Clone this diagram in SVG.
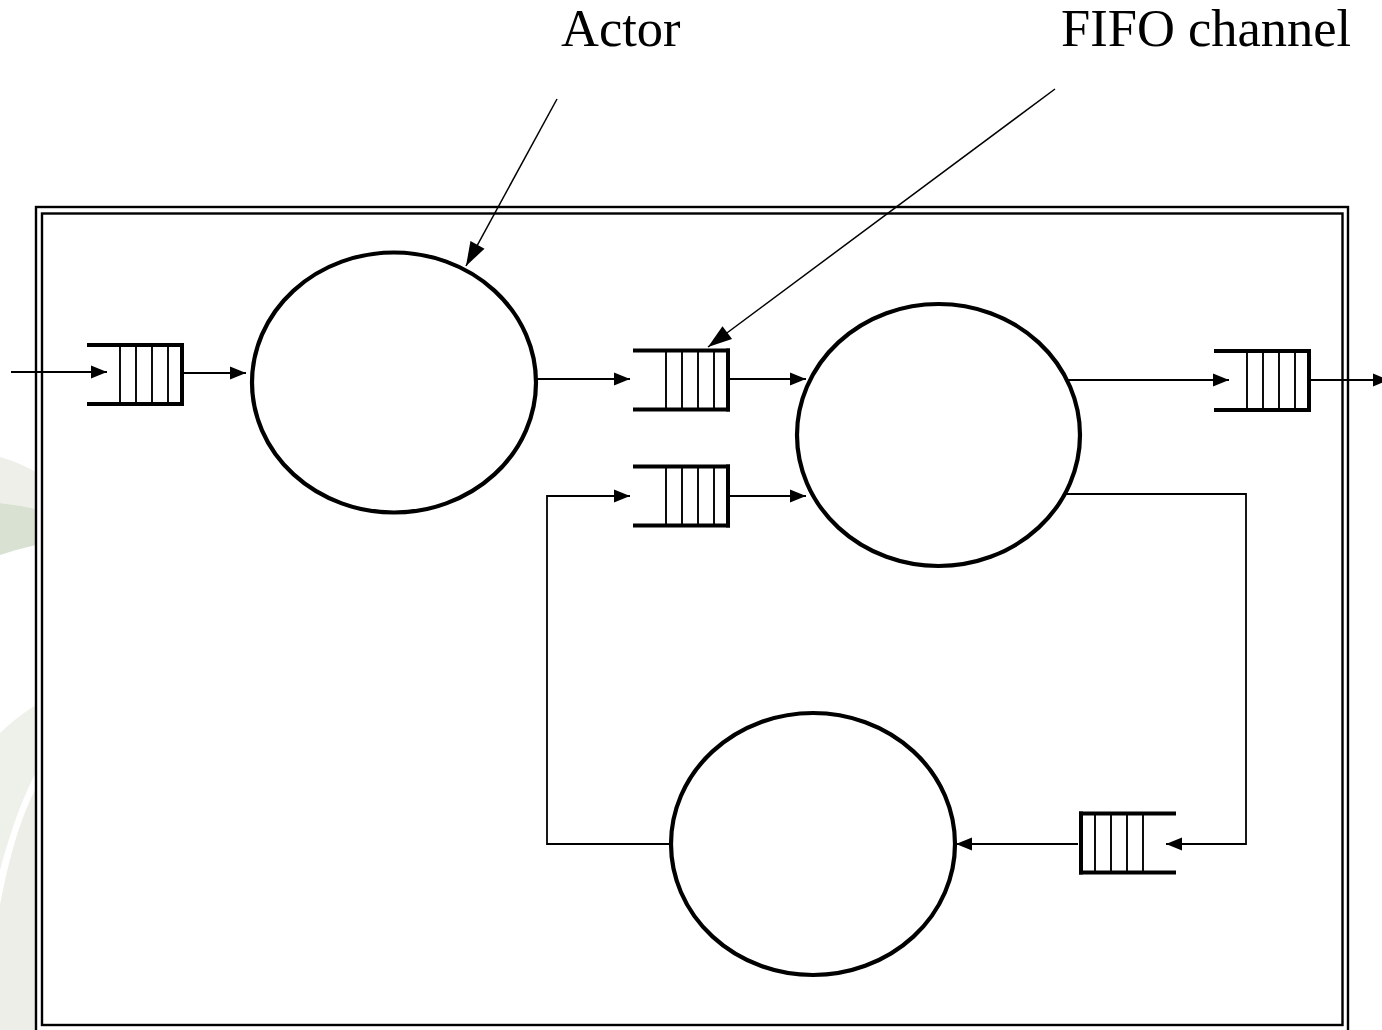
<svg xmlns="http://www.w3.org/2000/svg" width="1382" height="1030" viewBox="0 0 1382 1030">
  <style>
    .frame { fill: none; stroke: #000; stroke-width: 2.4; }
    .actor { fill: #fff; stroke: #000; stroke-width: 4.2; }
    .wire { fill: none; stroke: #000; stroke-width: 1.8; }
    .pointer { fill: none; stroke: #000; stroke-width: 1.5; }
    .bar { stroke: #000; stroke-width: 4; stroke-linecap: square; }
    .cell { stroke: #000; stroke-width: 1.9; }
    .label { font-family: "Liberation Serif", "Times New Roman", serif; font-size: 52.5px; fill: #000; }
  </style>
  <defs>
    <marker id="arrow" markerUnits="userSpaceOnUse" markerWidth="18" markerHeight="14" refX="16" refY="6.5" orient="auto" overflow="visible">
      <path d="M0,0 L16,6.5 L0,13 z" fill="#000"/>
    </marker>
    <marker id="pointerHead" markerUnits="userSpaceOnUse" markerWidth="26" markerHeight="18" refX="24" refY="8" orient="auto" overflow="visible">
      <path d="M0,0 L24,8 L0,16 z" fill="#000"/>
    </marker>
    <!-- FIFO buffer: open on the left, closed on the right, four cells -->
    <g id="fifo">
      <line class="bar" x1="1" y1="0" x2="94" y2="0"/>
      <line class="bar" x1="1" y1="59" x2="94" y2="59"/>
      <line class="bar" x1="94" y1="0" x2="94" y2="59"/>
      <line class="cell" x1="32" y1="0" x2="32" y2="59"/>
      <line class="cell" x1="48" y1="0" x2="48" y2="59"/>
      <line class="cell" x1="64" y1="0" x2="64" y2="59"/>
      <line class="cell" x1="80" y1="0" x2="80" y2="59"/>
    </g>
  </defs>

  <rect width="1382" height="1030" fill="#fff"/>

  <!-- faint backdrop swirls in the left margin -->
  <g id="backdrop">
    <path d="M0,457 Q18,462 36,472 L36,509 Q18,505 0,503 Z" fill="#edefe8"/>
    <path d="M0,503 Q18,505 36,509 L36,545 Q18,549 0,555 Z" fill="#d9e1d3"/>
    <path d="M0,733 Q18,716 36,705 L36,772 Q16,810 0,870 Z" fill="#eef0ea"/>
    <path d="M36,788 Q14,830 0,905 L0,1030 L36,1030 Z" fill="#eceee7"/>
  </g>

  <!-- double frame of the network -->
  <g id="frame">
    <rect x="36" y="207" width="1312" height="830" class="frame" fill="#fff"/>
    <rect x="42" y="213.5" width="1300.5" height="811.5" class="frame"/>
  </g>

  <!-- connectors -->
  <g id="connectors">
    <line class="wire" x1="11" y1="372" x2="107" y2="372" marker-end="url(#arrow)"/>
    <line class="wire" x1="183" y1="373" x2="246" y2="373" marker-end="url(#arrow)"/>
    <line class="wire" x1="536" y1="379" x2="630" y2="379" marker-end="url(#arrow)"/>
    <line class="wire" x1="728" y1="379" x2="806" y2="379" marker-end="url(#arrow)"/>
    <line class="wire" x1="728" y1="496" x2="806" y2="496" marker-end="url(#arrow)"/>
    <line class="wire" x1="1068" y1="380" x2="1229" y2="380" marker-end="url(#arrow)"/>
    <line class="wire" x1="1310" y1="380" x2="1389" y2="380" marker-end="url(#arrow)"/>
    <polyline class="wire" points="1066,494 1246,494 1246,844 1166,844" marker-end="url(#arrow)"/>
    <line class="wire" x1="1078" y1="844" x2="956" y2="844" marker-end="url(#arrow)"/>
    <polyline class="wire" points="671,844 547,844 547,496 630,496" marker-end="url(#arrow)"/>
    <!-- label pointers -->
    <line class="pointer" x1="557" y1="99" x2="466" y2="266" marker-end="url(#pointerHead)"/>
    <line class="pointer" x1="1055" y1="89" x2="708" y2="347" marker-end="url(#pointerHead)"/>
  </g>

  <!-- FIFO channels -->
  <g id="fifo-in"><use href="#fifo" x="88" y="345"/></g>
  <g id="fifo-a"><use href="#fifo" x="634" y="350.5"/></g>
  <g id="fifo-b"><use href="#fifo" x="634" y="466.5"/></g>
  <g id="fifo-out"><use href="#fifo" x="1215" y="351"/></g>
  <g id="fifo-back"><use href="#fifo" transform="translate(1175,813.5) scale(-1,1)"/></g>

  <!-- actors -->
  <g id="actor-1"><ellipse class="actor" cx="394" cy="382.5" rx="142" ry="130"/></g>
  <g id="actor-2"><ellipse class="actor" cx="938.5" cy="435" rx="141.5" ry="131"/></g>
  <g id="actor-3"><ellipse class="actor" cx="813" cy="844" rx="142" ry="131"/></g>

  <!-- labels -->
  <g id="label-actor"><text class="label" x="561" y="46">Actor</text></g>
  <g id="label-fifo"><text class="label" x="1061" y="46">FIFO channel</text></g>
</svg>
